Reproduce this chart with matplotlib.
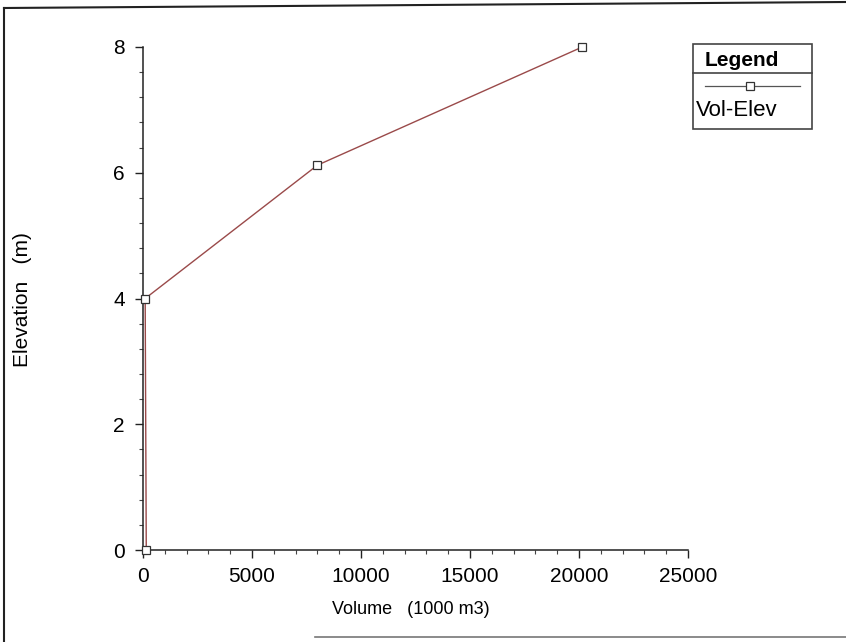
import matplotlib
matplotlib.use("Agg")
import matplotlib.pyplot as plt
from matplotlib.lines import Line2D
from matplotlib.patches import Rectangle
from matplotlib.ticker import MultipleLocator

plt.rcParams['font.family'] = ['Liberation Sans', 'DejaVu Sans']

# Volume-elevation curve of the reservoir
volume = [150, 100, 8000, 20150]       # 1000 m3
elevation = [0.0, 4.0, 6.12, 8.0]      # m
series_name = "Vol-Elev"
x_ticks = [0, 5000, 10000, 15000, 20000, 25000]
y_ticks = [0, 2, 4, 6, 8]

line_color = "#9a4a4a"
marker_edge = "#333333"

fig = plt.figure(figsize=(8.46, 6.42), dpi=100)
ax = fig.add_axes([143 / 846, 1 - 550 / 642, (688 - 143) / 846, (550 - 47) / 642])

ax.plot(volume, elevation, color=line_color, lw=1.0, marker='s', ms=6,
        mfc='white', mec=marker_edge, mew=0.9, clip_on=False, zorder=3)

ax.set_xlim(0, 25000)
ax.set_ylim(0, 8)
ax.set_xticks(x_ticks)
ax.set_yticks(y_ticks)
ax.xaxis.set_minor_locator(MultipleLocator(1000))
ax.yaxis.set_minor_locator(MultipleLocator(0.4))
ax.tick_params(axis='both', which='major', direction='out', length=6, width=1,
               labelsize=15, color='#222222')
ax.tick_params(axis='both', which='minor', direction='out', length=3, width=0.8,
               color='#444444')
ax.tick_params(axis='x', pad=6)
ax.tick_params(axis='y', pad=7)
for s in ('top', 'right'):
    ax.spines[s].set_visible(False)
for s in ('left', 'bottom'):
    ax.spines[s].set_linewidth(1.1)
    ax.spines[s].set_color('#222222')

ax.set_xlabel("Volume   (1000 m3)", fontsize=13)
ax.set_ylabel("Elevation   (m)", fontsize=15)
ax.xaxis.set_label_coords((411 - 143) / 545, (550 - 601) / 503)
ax.yaxis.set_label_coords((32 - 143) / 545, (550 - 300) / 503)

# Legend box with title row and a sample above the series name
lx0, lx1 = 693 / 846, 812 / 846
ly0, ly1 = 1 - 129 / 642, 1 - 44 / 642
fig.add_artist(Rectangle((lx0, ly0), lx1 - lx0, ly1 - ly0, transform=fig.transFigure,
                         fill=False, ec='#444444', lw=1.2))
fig.add_artist(Line2D([lx0, lx1], [1 - 73 / 642] * 2, transform=fig.transFigure,
                      color='#444444', lw=1.2))
fig.text(705 / 846, 1 - 60 / 642, "Legend", fontsize=15, fontweight='bold',
         va='center', ha='left')
fig.add_artist(Line2D([705 / 846, 800 / 846], [1 - 86 / 642] * 2,
                      transform=fig.transFigure, color='#555555', lw=0.9))
fig.add_artist(Line2D([750 / 846], [1 - 86 / 642], transform=fig.transFigure,
                      marker='s', ms=6, mfc='white', mec=marker_edge, mew=0.9, lw=0))
fig.text(696 / 846, 1 - 110 / 642, series_name, fontsize=16, va='center', ha='left')

# Page border
fig.add_artist(Line2D([4 / 846, 4 / 846], [0, 1 - 8 / 642], transform=fig.transFigure,
                      color='#222222', lw=1.5))
fig.add_artist(Line2D([4 / 846, 1], [1 - 8 / 642, 1 - 2 / 642], transform=fig.transFigure,
                      color='#222222', lw=1.5))
fig.add_artist(Line2D([315 / 846, 1], [1 - 637 / 642] * 2, transform=fig.transFigure,
                      color='#777777', lw=1.2))

fig.savefig("out.png", dpi=100)
